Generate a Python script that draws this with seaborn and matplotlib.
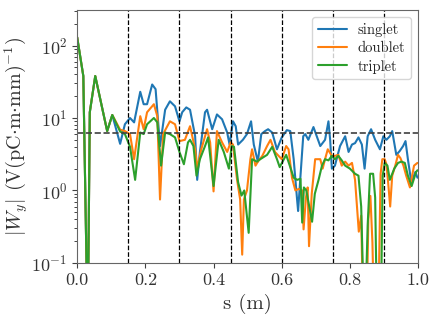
"""
Transverse wake |W_y| along s for singlet / doublet / triplet
"""

import matplotlib
matplotlib.use("Agg")
import matplotlib.pyplot as plt
import seaborn as sns

sns.set_style("ticks")
plt.rcParams['font.family'] = 'serif'
plt.rcParams['font.serif'] = ['cmr10']
plt.rcParams['mathtext.fontset'] = 'cm'
plt.rcParams['axes.formatter.use_mathtext'] = True

# values (0.01 = dips below the axis)
s_singlet = [0, 0.018, 0.031, 0.037, 0.053, 0.088, 0.103, 0.126, 0.14, 0.155,
             0.167, 0.185, 0.195, 0.205, 0.22, 0.23, 0.243, 0.258, 0.272, 0.287,
             0.30, 0.308, 0.32, 0.331, 0.346, 0.352, 0.36, 0.375, 0.381, 0.396,
             0.41, 0.425, 0.44, 0.447, 0.457, 0.465, 0.472, 0.486, 0.498, 0.51,
             0.518, 0.53, 0.54, 0.551, 0.56, 0.572, 0.586, 0.60, 0.615, 0.625,
             0.635, 0.645, 0.648, 0.655, 0.663, 0.669, 0.678, 0.693, 0.713, 0.727,
             0.737, 0.742, 0.747, 0.756, 0.771, 0.786, 0.796, 0.806, 0.815, 0.825,
             0.835, 0.843, 0.852, 0.862, 0.874, 0.888, 0.898, 0.907, 0.917, 0.924,
             0.936, 0.946, 0.956, 0.963, 0.97, 0.98, 0.992, 0.998]
w_singlet = [130, 38, 0.01, 12, 38, 6.6, 11, 4.4, 8.2, 10,
             8.7, 23, 15.5, 15.5, 29, 25, 4.1, 13, 17, 14.5,
             9, 12, 14, 13, 5.6, 1.4, 3.4, 12, 13, 7,
             11.2, 9.6, 6.3, 4.3, 9, 7.7, 4.3, 5, 6, 9,
             4.3, 2.5, 6, 6.6, 7, 6.3, 3.7, 5.4, 6.8, 6.6,
             2.7, 0.75, 0.52, 1.6, 5.6, 6, 5, 7.5, 4.1, 5,
             9, 5, 2, 2.2, 4.1, 5.6, 3.4, 4.3, 4.5, 5.4,
             4.3, 2, 5.6, 7, 5, 3.7, 5.6, 5, 5.6, 6.6,
             3.1, 3.5, 4.1, 4.8, 2.7, 1.3, 1.8, 1.5]

s_doublet = [0, 0.018, 0.031, 0.037, 0.053, 0.088, 0.103, 0.126, 0.14, 0.155,
             0.167, 0.185, 0.195, 0.205, 0.225, 0.235, 0.243, 0.252, 0.272, 0.287,
             0.30, 0.316, 0.331, 0.346, 0.352, 0.364, 0.381, 0.39, 0.40, 0.41,
             0.425, 0.44, 0.45, 0.457, 0.469, 0.478, 0.484, 0.489, 0.498, 0.508,
             0.513, 0.523, 0.53, 0.543, 0.557, 0.567, 0.58, 0.60, 0.613, 0.62,
             0.63, 0.64, 0.65, 0.66, 0.664, 0.671, 0.676, 0.68, 0.688, 0.698,
             0.713, 0.72, 0.727, 0.735, 0.747, 0.756, 0.766, 0.776, 0.786, 0.796,
             0.806, 0.815, 0.826, 0.833, 0.84, 0.848, 0.854, 0.86, 0.866, 0.872,
             0.882, 0.89, 0.895, 0.902, 0.907, 0.912, 0.918, 0.924, 0.933, 0.941,
             0.948, 0.957, 0.965, 0.976, 0.988, 0.998]
w_doublet = [130, 38, 0.01, 12, 38, 6.6, 11, 6.9, 6.6, 6,
             2.7, 10.6, 7, 12, 15.5, 10.6, 0.75, 6, 9, 8.2,
             4.8, 5, 7.7, 3.7, 2, 3.7, 7, 4.6, 0.97, 6.6,
             4.6, 3.4, 4.6, 4.3, 1.4, 0.75, 0.13, 0.75, 1.0, 2.7,
             3.7, 2.2, 2.5, 3, 4.1, 5, 3.4, 2.7, 4.1, 3.7,
             1.5, 1.0, 1.05, 1.0, 0.29, 0.8, 1.1, 0.17, 0.9, 2.7,
             2.7, 2, 2.7, 3.7, 3, 3, 3.1, 2.2, 2.5, 2.2,
             2.4, 1.4, 0.27, 0.45, 0.01, 0.01, 0.4, 0.84, 0.19, 0.01,
             0.01, 1.7, 2.7, 2.7, 2.3, 1.3, 0.6, 1.6, 2.2, 3.1,
             2.8, 2.2, 1.6, 1.1, 2.2, 2.4]

s_triplet = [0, 0.018, 0.031, 0.037, 0.053, 0.088, 0.103, 0.126, 0.14, 0.155,
             0.17, 0.185, 0.195, 0.205, 0.225, 0.235, 0.246, 0.258, 0.272, 0.287,
             0.30, 0.313, 0.325, 0.331, 0.341, 0.35, 0.36, 0.375, 0.384, 0.40,
             0.415, 0.43, 0.445, 0.453, 0.46, 0.472, 0.482, 0.49, 0.503, 0.513,
             0.527, 0.537, 0.557, 0.572, 0.586, 0.594, 0.613, 0.628, 0.635, 0.645,
             0.655, 0.66, 0.665, 0.672, 0.689, 0.697, 0.708, 0.718, 0.727, 0.737,
             0.747, 0.756, 0.766, 0.776, 0.786, 0.80, 0.815, 0.825, 0.833, 0.843,
             0.852, 0.859, 0.868, 0.874, 0.88, 0.89, 0.896, 0.902, 0.91, 0.917,
             0.93, 0.941, 0.951, 0.961, 0.97, 0.981, 0.994, 0.998]
w_triplet = [130, 38, 0.01, 12, 38, 6.6, 11, 6.5, 6, 4,
             1.4, 6.3, 6, 8.2, 10, 8.7, 2.2, 6.3, 6, 5.4,
             3.4, 2.3, 4.6, 5, 4.1, 1.6, 2.7, 4.1, 5.4, 1.15,
             5, 3.4, 2, 4.1, 4, 1.3, 0.85, 1.0, 0.26, 2.7,
             2.5, 2.7, 3.1, 4, 2.7, 2.1, 3.1, 1.9, 1.5, 1.4,
             1.45, 0.36, 1.1, 1.0, 0.37, 0.9, 1.4, 2.2, 2.7, 2.6,
             3, 2.7, 3, 2.6, 2.2, 2, 1.7, 1.6, 0.6, 0.01,
             0.33, 1.7, 1.7, 0.8, 0.01, 0.01, 1.6, 2.4, 2.2, 1.4,
             2.0, 2.4, 2.5, 2.4, 1.6, 1.15, 1.8, 1.9]

section_marks = [0.15, 0.30, 0.45, 0.60, 0.75, 0.90]
threshold = 6.2

fig, ax = plt.subplots(figsize=(4.36, 3.21), dpi=100)
fig.subplots_adjust(left=0.177, right=0.959, top=0.969, bottom=0.181)

sns.lineplot(x=s_singlet, y=w_singlet, ax=ax, color='#1f77b4', lw=1.5, label='singlet', sort=False)
sns.lineplot(x=s_doublet, y=w_doublet, ax=ax, color='#ff7f0e', lw=1.5, label='doublet', sort=False)
sns.lineplot(x=s_triplet, y=w_triplet, ax=ax, color='#2ca02c', lw=1.5, label='triplet', sort=False)

for xm in section_marks:
    ax.axvline(xm, color='k', ls='--', lw=0.9)
ax.axhline(threshold, color='0.25', ls='--', lw=1.2)

ax.set_yscale('log')
ax.set_xlim(0, 1)
ax.set_ylim(0.1, 310)
ax.set_xticks([0.0, 0.2, 0.4, 0.6, 0.8, 1.0])
ax.set_xticklabels(['0.0', '0.2', '0.4', '0.6', '0.8', '1.0'])
ax.tick_params(labelsize=13, colors='0.25', labelcolor='0.2')
ax.set_xlabel('s (m)', fontsize=15, color='0.2')
ax.set_ylabel(r'$|W_y|$ (V(pC$\cdot$m$\cdot$mm)$^{-1}$)', fontsize=14.5, color='0.2', labelpad=0)
for sp in ax.spines.values():
    sp.set_visible(True)
    sp.set_color('0.4')

ax.legend(loc='upper right', fontsize=10.5, frameon=True, handlelength=2.0,
          labelspacing=0.3, handletextpad=0.7, borderpad=0.4, borderaxespad=0.5)

plt.savefig('out.png', dpi=100)
